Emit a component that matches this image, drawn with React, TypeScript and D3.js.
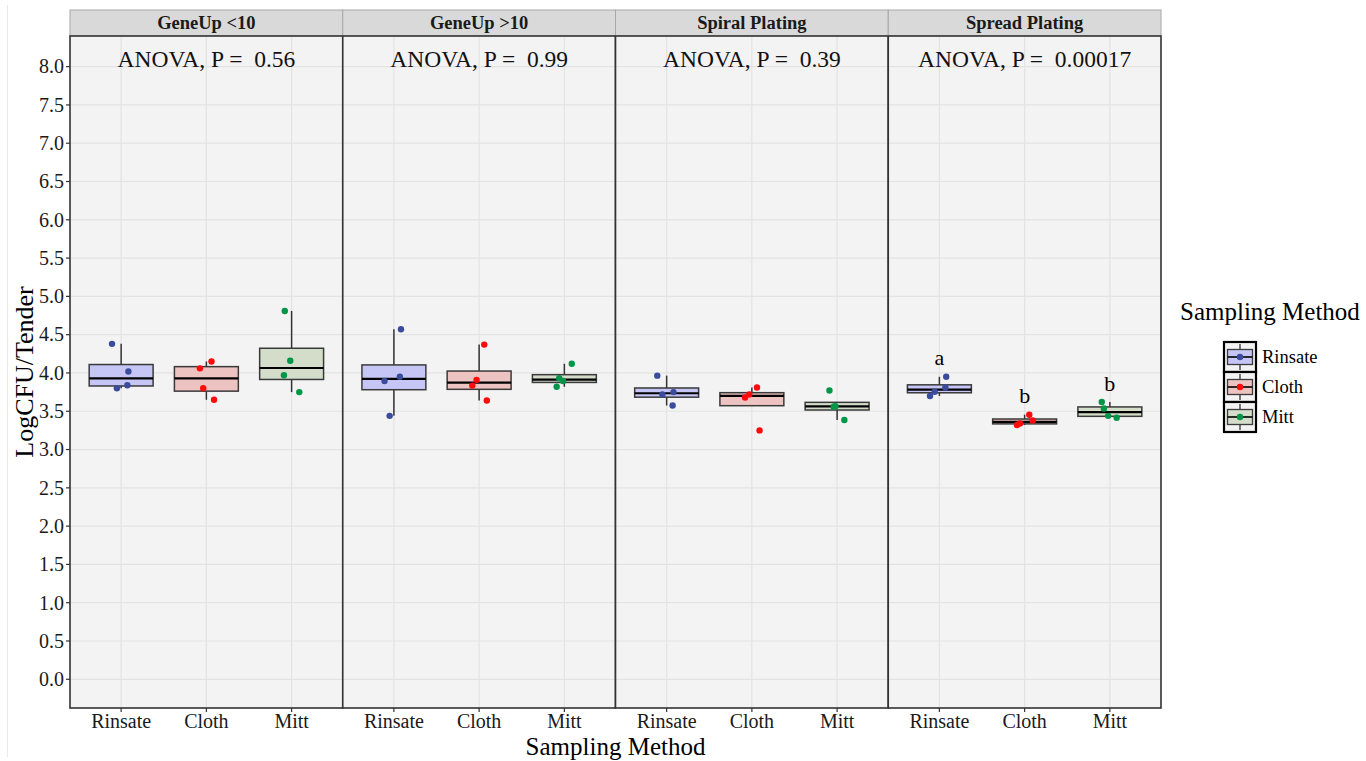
import React, { useEffect, useRef } from 'react';
import * as d3 from 'd3';

const panels = ['GeneUp <10', 'GeneUp >10', 'Spiral Plating', 'Spread Plating'];
const methods = ['Rinsate', 'Cloth', 'Mitt'];
const anovaP = ['0.56', '0.99', '0.39', '0.00017'];
// post-hoc letters, only shown for the last panel
const spreadLetters = ['a', 'b', 'b'];

// LogCFU/Tender, one row per panel
const rinsate = [
  [4.38, 4.02, 3.84, 3.8],
  [4.57, 3.95, 3.895, 3.44],
  [3.965, 3.75, 3.72, 3.575],
  [3.95, 3.81, 3.755, 3.7],
];
const cloth = [
  [4.15, 4.06, 3.8, 3.65],
  [4.37, 3.91, 3.835, 3.64],
  [3.81, 3.72, 3.68, 3.25],
  [3.455, 3.38, 3.34, 3.32],
];
const mitt = [
  [4.81, 4.16, 3.97, 3.75],
  [4.12, 3.93, 3.895, 3.82],
  [3.77, 3.565, 3.56, 3.385],
  [3.62, 3.535, 3.44, 3.415],
];

// horizontal jitter, in category widths
const rinsateJitter = [
  [-0.107, 0.085, 0.073, -0.05],
  [0.083, 0.07, -0.11, -0.05],
  [-0.11, 0.08, -0.05, 0.07],
  [0.08, 0.07, -0.055, -0.11],
];
const clothJitter = [
  [0.06, -0.076, -0.037, 0.09],
  [0.06, -0.03, -0.08, 0.09],
  [0.06, -0.03, -0.08, 0.09],
  [0.055, 0.095, -0.055, -0.09],
];
const mittJitter = [
  [-0.08, -0.016, -0.09, 0.09],
  [0.087, -0.06, -0.015, -0.09],
  [-0.09, -0.02, -0.04, 0.085],
  [-0.095, -0.07, -0.02, 0.08],
];

const boxFills = ['#c6c6f6', '#ecc3c1', '#d3ddc9'];
const dotColors = ['#3b4c9d', '#ff0a0a', '#009648'];

const FONT = '"Liberation Serif", "Times New Roman", serif';

function boxStats(vals: number[]) {
  const s = [...vals].sort(d3.ascending);
  const q1 = d3.quantile(s, 0.25)!;
  const med = d3.quantile(s, 0.5)!;
  const q3 = d3.quantile(s, 0.75)!;
  const iqr = q3 - q1;
  const inside = s.filter(v => v >= q1 - 1.5 * iqr && v <= q3 + 1.5 * iqr);
  return { q1, med, q3, lo: d3.min(inside)!, hi: d3.max(inside)! };
}

const App: React.FC = () => {
  const ref = useRef<SVGSVGElement>(null);

  useEffect(() => {
    if (!ref.current) return;
    const width = 1366;
    const height = 761;
    const left = 70, right = 1161, top = 36, bottom = 708, stripTop = 10;

    const svg = d3.select(ref.current)
      .attr('width', width)
      .attr('height', height)
      .style('font-family', FONT);
    svg.selectAll('*').remove();

    svg.append('rect').attr('width', width).attr('height', height).attr('fill', '#fff');
    svg.append('line')
      .attr('x1', 7.5).attr('x2', 7.5).attr('y1', 5).attr('y2', 757)
      .attr('stroke', '#e8e8e8');

    const panelX = d3.scaleBand<string>().domain(panels).range([left, right]);
    const bw = panelX.bandwidth();
    const x = d3.scalePoint<string>().domain(methods).range([0, bw]).padding(0.6);
    const step = x.step();
    const boxW = step * 0.75;
    const y = d3.scaleLinear().domain([-0.375, 8.4]).range([bottom, top]);
    const yTicks = d3.range(0, 8.01, 0.5);

    const seriesValues = [rinsate, cloth, mitt];
    const seriesJitter = [rinsateJitter, clothJitter, mittJitter];

    panels.forEach((p, pi) => {
      const g = svg.append('g').attr('transform', `translate(${panelX(p)},0)`);

      // strip
      g.append('rect')
        .attr('x', 0).attr('y', stripTop).attr('width', bw).attr('height', top - stripTop)
        .attr('fill', '#d9d9d9').attr('stroke', '#a8a8a8').attr('stroke-width', 1);
      g.append('text')
        .attr('x', bw / 2).attr('y', top - 7)
        .attr('text-anchor', 'middle')
        .attr('font-weight', 'bold')
        .attr('font-size', 18.5)
        .attr('fill', '#1a1a1a')
        .text(p);

      // panel bg + grid
      g.append('rect')
        .attr('x', 0).attr('y', top).attr('width', bw).attr('height', bottom - top)
        .attr('fill', '#f3f3f3');
      g.selectAll('.hgrid').data(yTicks).enter().append('line')
        .attr('x1', 0).attr('x2', bw)
        .attr('y1', d => y(d)).attr('y2', d => y(d))
        .attr('stroke', '#e3e3e3').attr('stroke-width', 1.2);
      g.selectAll('.vgrid').data(methods).enter().append('line')
        .attr('x1', d => x(d)!).attr('x2', d => x(d)!)
        .attr('y1', top).attr('y2', bottom)
        .attr('stroke', '#e3e3e3').attr('stroke-width', 1.2);

      // boxplots
      methods.forEach((m, mi) => {
        const vals = seriesValues[mi][pi];
        const st = boxStats(vals);
        const cx = x(m)!;
        g.append('line')
          .attr('x1', cx).attr('x2', cx).attr('y1', y(st.q3)).attr('y2', y(st.hi))
          .attr('stroke', '#333').attr('stroke-width', 1.5);
        g.append('line')
          .attr('x1', cx).attr('x2', cx).attr('y1', y(st.q1)).attr('y2', y(st.lo))
          .attr('stroke', '#333').attr('stroke-width', 1.5);
        g.append('rect')
          .attr('x', cx - boxW / 2).attr('width', boxW)
          .attr('y', y(st.q3)).attr('height', y(st.q1) - y(st.q3))
          .attr('fill', boxFills[mi]).attr('stroke', '#3a3a3a').attr('stroke-width', 1.5);
        g.append('line')
          .attr('x1', cx - boxW / 2).attr('x2', cx + boxW / 2)
          .attr('y1', y(st.med)).attr('y2', y(st.med))
          .attr('stroke', '#000').attr('stroke-width', 2.2);

        g.selectAll(null).data(vals).enter().append('circle')
          .attr('cx', (d, i) => cx + seriesJitter[mi][pi][i] * step)
          .attr('cy', d => y(d))
          .attr('r', 3.2)
          .attr('fill', dotColors[mi]);

        if (pi === panels.length - 1) {
          g.append('text')
            .attr('x', cx).attr('y', y(d3.max(vals)! + 0.15))
            .attr('text-anchor', 'middle')
            .attr('font-size', 22)
            .attr('fill', '#000')
            .text(spreadLetters[mi]);
        }
      });

      // ANOVA label
      g.append('text')
        .attr('x', bw / 2).attr('y', y(8.0))
        .attr('text-anchor', 'middle')
        .attr('font-size', 23.5)
        .attr('fill', '#111')
        .style('white-space', 'pre')
        .text(`ANOVA, P =  ${anovaP[pi]}`);

      // panel border
      g.append('rect')
        .attr('x', 0).attr('y', top).attr('width', bw).attr('height', bottom - top)
        .attr('fill', 'none').attr('stroke', '#333').attr('stroke-width', 1.6);

      // x ticks
      const xt = g.selectAll('.xt').data(methods).enter().append('g')
        .attr('transform', d => `translate(${x(d)},${bottom})`);
      xt.append('line').attr('y1', 0).attr('y2', 4).attr('stroke', '#333').attr('stroke-width', 1.2);
      xt.append('text')
        .attr('y', 20)
        .attr('text-anchor', 'middle')
        .attr('font-size', 20)
        .attr('fill', '#1a1a1a')
        .text(d => d);
    });

    // y axis
    const ya = svg.append('g').attr('transform', `translate(${left},0)`);
    const yt = ya.selectAll('.yt').data(yTicks).enter().append('g')
      .attr('transform', d => `translate(0,${y(d)})`);
    yt.append('line').attr('x1', -4).attr('x2', 0).attr('stroke', '#333').attr('stroke-width', 1.2);
    yt.append('text')
      .attr('x', -6).attr('dy', '0.34em')
      .attr('text-anchor', 'end')
      .attr('font-size', 20)
      .attr('fill', '#1a1a1a')
      .text(d => d3.format('.1f')(d));

    svg.append('text')
      .attr('transform', `translate(33,${(top + bottom) / 2}) rotate(-90)`)
      .attr('text-anchor', 'middle')
      .attr('font-size', 26)
      .attr('fill', '#000')
      .text('LogCFU/Tender');

    svg.append('text')
      .attr('x', (left + right) / 2).attr('y', 755)
      .attr('text-anchor', 'middle')
      .attr('font-size', 25)
      .attr('fill', '#000')
      .text('Sampling Method');

    // legend
    const lg = svg.append('g').attr('transform', 'translate(1180,0)');
    lg.append('text')
      .attr('x', 0).attr('y', 320)
      .attr('font-size', 25)
      .attr('fill', '#000')
      .text('Sampling Method');
    const keyW = 32, keyH = 30, keyX = 44, keyY = 342;
    methods.forEach((m, mi) => {
      const ky = keyY + mi * keyH;
      const k = lg.append('g').attr('transform', `translate(${keyX},${ky})`);
      k.append('rect').attr('width', keyW).attr('height', keyH)
        .attr('fill', '#f3f3f3').attr('stroke', '#000').attr('stroke-width', 2.2);
      k.append('line').attr('x1', keyW / 2).attr('x2', keyW / 2).attr('y1', 2).attr('y2', keyH - 2)
        .attr('stroke', '#333').attr('stroke-width', 1.3);
      k.append('rect').attr('x', 3.5).attr('y', 7.5).attr('width', keyW - 7).attr('height', 15)
        .attr('fill', boxFills[mi]).attr('stroke', '#3a3a3a').attr('stroke-width', 1.3);
      k.append('line').attr('x1', 3.5).attr('x2', keyW - 3.5).attr('y1', keyH / 2).attr('y2', keyH / 2)
        .attr('stroke', '#000').attr('stroke-width', 1.6);
      k.append('circle').attr('cx', keyW / 2).attr('cy', keyH / 2).attr('r', 3.2).attr('fill', dotColors[mi]);
      lg.append('text')
        .attr('x', 82).attr('y', ky + keyH / 2).attr('dy', '0.34em')
        .attr('font-size', 18.5)
        .attr('fill', '#000')
        .text(m);
    });
  }, []);

  return (
    <div style={{ position: 'absolute', left: 0, top: 0 }}>
      <svg ref={ref} style={{ display: 'block' }}></svg>
    </div>
  );
};

export default App;
